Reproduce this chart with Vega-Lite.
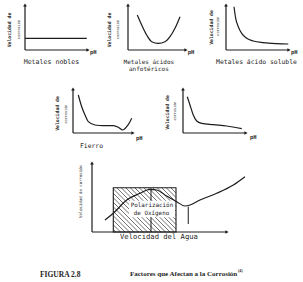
{
  "$schema": "https://vega.github.io/schema/vega-lite/v6.json",
  "padding": 0,
  "background": "white",
  "config": {
    "view": {"stroke": null},
    "text": {"font": "DejaVu Sans Mono", "color": "#1e1e1e", "fontWeight": "normal"},
    "line": {"color": "#1c1c1c", "strokeWidth": 1.2, "interpolate": "monotone"},
    "rule": {"color": "#1c1c1c", "strokeWidth": 1.2},
    "point": {"color": "#1c1c1c", "filled": true, "size": 14, "opacity": 1}
  },
  "vconcat": [
    {
      "hconcat": [
        {
          "width": 100, "height": 75,
          "encoding": {
            "x": {"field": "x", "type": "quantitative", "scale": {"domain": [-3.968, 11.905], "nice": false, "zero": false}, "axis": null},
            "y": {"field": "y", "type": "quantitative", "scale": {"domain": [-5.556, 11.111], "nice": false, "zero": false}, "axis": null}
          },
          "layer": [
            {"data": {"values": [{"x": 0, "y": 0, "x2": 10, "y2": 0}, {"x": 0, "y": 0, "x2": 0, "y2": 10}]}, "mark": "rule", "encoding": {"x2": {"field": "x2"}, "y2": {"field": "y2"}}},
            {"data": {"values": [{"x": 10, "y": 0}]}, "mark": {"type": "point", "shape": "triangle-right"}},
            {"data": {"values": [{"x": 0, "y": 10}]}, "mark": {"type": "point", "shape": "triangle-up"}},
            {"data": {"values": [{"x": 0, "y": 2.6}, {"x": 9.8, "y": 2.6}]}, "mark": {"type": "line", "interpolate": "linear"}},
            {"data": {"values": [{"x": 10.3, "y": -0.4, "t": "pH"}]}, "mark": {"type": "text", "align": "left", "baseline": "middle", "fontSize": 5.5, "fontWeight": "bold"}, "encoding": {"text": {"field": "t"}}},
            {"data": {"values": [{"x": 4.2, "y": -2.67, "t": "Metales nobles"}]}, "mark": {"type": "text", "align": "center", "baseline": "middle", "fontSize": 6.6}, "encoding": {"text": {"field": "t"}}},
            {"data": {"values": [{"x": -2.38, "y": 4.44, "t": "Velocidad de"}]}, "mark": {"type": "text", "align": "center", "baseline": "middle", "fontSize": 4.8, "fontWeight": "bold", "angle": 270}, "encoding": {"text": {"field": "t"}}},
            {"data": {"values": [{"x": -1.03, "y": 4.56, "t": "corrosión"}]}, "mark": {"type": "text", "align": "center", "baseline": "middle", "fontSize": 3.5, "angle": 270}, "encoding": {"text": {"field": "t"}}}
          ]
        },
        {
          "width": 100, "height": 75,
          "encoding": {
            "x": {"field": "x", "type": "quantitative", "scale": {"domain": [-4.828, 12.414], "nice": false, "zero": false}, "axis": null},
            "y": {"field": "y", "type": "quantitative", "scale": {"domain": [-5.556, 11.111], "nice": false, "zero": false}, "axis": null}
          },
          "layer": [
            {"data": {"values": [{"x": 0, "y": 0, "x2": 10, "y2": 0}, {"x": 0, "y": 0, "x2": 0, "y2": 10}]}, "mark": "rule", "encoding": {"x2": {"field": "x2"}, "y2": {"field": "y2"}}},
            {"data": {"values": [{"x": 10, "y": 0}]}, "mark": {"type": "point", "shape": "triangle-right"}},
            {"data": {"values": [{"x": 0, "y": 10}]}, "mark": {"type": "point", "shape": "triangle-up"}},
            {"data": {"values": [{"x": 1.6, "y": 7.78}, {"x": 2.36, "y": 5.56}, {"x": 3.22, "y": 3.33}, {"x": 4.09, "y": 1.84}, {"x": 5.22, "y": 1.49}, {"x": 6.38, "y": 1.84}, {"x": 7.24, "y": 2.96}, {"x": 8.1, "y": 4.82}, {"x": 8.97, "y": 7.4}]}, "mark": "line"},
            {"data": {"values": [{"x": 10.3, "y": -0.4, "t": "pH"}]}, "mark": {"type": "text", "align": "left", "baseline": "middle", "fontSize": 5.5, "fontWeight": "bold"}, "encoding": {"text": {"field": "t"}}},
            {"data": {"values": [{"x": 3.6, "y": -2.67, "t": "Metales ácidos"}, {"x": 3.6, "y": -4.33, "t": "anfotéricos"}]}, "mark": {"type": "text", "align": "center", "baseline": "middle", "fontSize": 6}, "encoding": {"text": {"field": "t"}}},
            {"data": {"values": [{"x": -3.1, "y": 4.44, "t": "Velocidad de"}]}, "mark": {"type": "text", "align": "center", "baseline": "middle", "fontSize": 4.8, "fontWeight": "bold", "angle": 270}, "encoding": {"text": {"field": "t"}}},
            {"data": {"values": [{"x": -1.81, "y": 4.56, "t": "corrosión"}]}, "mark": {"type": "text", "align": "center", "baseline": "middle", "fontSize": 3.5, "angle": 270}, "encoding": {"text": {"field": "t"}}}
          ]
        },
        {
          "width": 103, "height": 75,
          "encoding": {
            "x": {"field": "x", "type": "quantitative", "scale": {"domain": [-4.127, 12.222], "nice": false, "zero": false}, "axis": null},
            "y": {"field": "y", "type": "quantitative", "scale": {"domain": [-5.556, 11.111], "nice": false, "zero": false}, "axis": null}
          },
          "layer": [
            {"data": {"values": [{"x": 0, "y": 0, "x2": 10, "y2": 0}, {"x": 0, "y": 0, "x2": 0, "y2": 10}]}, "mark": "rule", "encoding": {"x2": {"field": "x2"}, "y2": {"field": "y2"}}},
            {"data": {"values": [{"x": 10, "y": 0}]}, "mark": {"type": "point", "shape": "triangle-right"}},
            {"data": {"values": [{"x": 0, "y": 10}]}, "mark": {"type": "point", "shape": "triangle-up"}},
            {"data": {"values": [{"x": 1.27, "y": 9.62}, {"x": 1.54, "y": 7.04}, {"x": 1.95, "y": 5.18}, {"x": 2.49, "y": 3.7}, {"x": 3.29, "y": 2.6}, {"x": 4.33, "y": 2.0}, {"x": 5.92, "y": 1.62}, {"x": 8.05, "y": 1.4}, {"x": 9.89, "y": 1.33}]}, "mark": "line"},
            {"data": {"values": [{"x": 10.3, "y": -0.4, "t": "pH"}]}, "mark": {"type": "text", "align": "left", "baseline": "middle", "fontSize": 5.5, "fontWeight": "bold"}, "encoding": {"text": {"field": "t"}}},
            {"data": {"values": [{"x": 4.84, "y": -2.67, "t": "Metales ácido soluble"}]}, "mark": {"type": "text", "align": "center", "baseline": "middle", "fontSize": 6.4}, "encoding": {"text": {"field": "t"}}},
            {"data": {"values": [{"x": -2.3, "y": 5.0, "t": "Velocidad de"}]}, "mark": {"type": "text", "align": "center", "baseline": "middle", "fontSize": 4.8, "fontWeight": "bold", "angle": 270}, "encoding": {"text": {"field": "t"}}},
            {"data": {"values": [{"x": -1.27, "y": 5.3, "t": "corrosión"}]}, "mark": {"type": "text", "align": "center", "baseline": "middle", "fontSize": 3.5, "angle": 270}, "encoding": {"text": {"field": "t"}}}
          ]
        }
      ],
      "spacing": 0
    },
    {
      "hconcat": [
        {
          "width": 150, "height": 80,
          "encoding": {
            "x": {"field": "x", "type": "quantitative", "scale": {"domain": [-12.167, 12.833], "nice": false, "zero": false}, "axis": null},
            "y": {"field": "y", "type": "quantitative", "scale": {"domain": [-5.0, 13.182], "nice": false, "zero": false}, "axis": null}
          },
          "layer": [
            {"data": {"values": [{"x": 0, "y": 0, "x2": 10, "y2": 0}, {"x": 0, "y": 0, "x2": 0, "y2": 10}]}, "mark": "rule", "encoding": {"x2": {"field": "x2"}, "y2": {"field": "y2"}}},
            {"data": {"values": [{"x": 10, "y": 0}]}, "mark": {"type": "point", "shape": "triangle-right"}},
            {"data": {"values": [{"x": 0, "y": 10}]}, "mark": {"type": "point", "shape": "triangle-up"}},
            {"data": {"values": [{"x": 0.88, "y": 8.64}, {"x": 1.45, "y": 5.98}, {"x": 2.0, "y": 4.09}, {"x": 2.55, "y": 2.57}, {"x": 3.67, "y": 1.82}, {"x": 5.05, "y": 1.66}, {"x": 6.72, "y": 1.66}, {"x": 7.55, "y": 1.3}, {"x": 8.28, "y": 0.68}, {"x": 8.95, "y": 1.43}, {"x": 9.5, "y": 2.57}, {"x": 9.78, "y": 3.34}]}, "mark": "line"},
            {"data": {"values": [{"x": 10.5, "y": -1.14, "t": "pH"}]}, "mark": {"type": "text", "align": "left", "baseline": "middle", "fontSize": 5.5, "fontWeight": "bold"}, "encoding": {"text": {"field": "t"}}},
            {"data": {"values": [{"x": 3.08, "y": -2.89, "t": "Fierro"}]}, "mark": {"type": "text", "align": "center", "baseline": "middle", "fontSize": 6.4}, "encoding": {"text": {"field": "t"}}},
            {"data": {"values": [{"x": -2.42, "y": 4.43, "t": "Velocidad de"}]}, "mark": {"type": "text", "align": "center", "baseline": "middle", "fontSize": 4.8, "fontWeight": "bold", "angle": 270}, "encoding": {"text": {"field": "t"}}},
            {"data": {"values": [{"x": -1.17, "y": 4.3, "t": "corrosión"}]}, "mark": {"type": "text", "align": "center", "baseline": "middle", "fontSize": 3.5, "angle": 270}, "encoding": {"text": {"field": "t"}}}
          ]
        },
        {
          "width": 153, "height": 80,
          "encoding": {
            "x": {"field": "x", "type": "quantitative", "scale": {"domain": [-5.238, 19.048], "nice": false, "zero": false}, "axis": null},
            "y": {"field": "y", "type": "quantitative", "scale": {"domain": [-5.0, 13.182], "nice": false, "zero": false}, "axis": null}
          },
          "layer": [
            {"data": {"values": [{"x": 0, "y": 0, "x2": 10, "y2": 0}, {"x": 0, "y": 0, "x2": 0, "y2": 10}]}, "mark": "rule", "encoding": {"x2": {"field": "x2"}, "y2": {"field": "y2"}}},
            {"data": {"values": [{"x": 10, "y": 0}]}, "mark": {"type": "point", "shape": "triangle-right"}},
            {"data": {"values": [{"x": 0, "y": 10}]}, "mark": {"type": "point", "shape": "triangle-up"}},
            {"data": {"values": [{"x": 0.68, "y": 8.25}, {"x": 1.11, "y": 6.36}, {"x": 1.63, "y": 4.09}, {"x": 2.17, "y": 2.73}, {"x": 2.97, "y": 2.2}, {"x": 4.81, "y": 1.89}, {"x": 6.94, "y": 1.59}, {"x": 9.32, "y": 0.98}]}, "mark": "line"},
            {"data": {"values": [{"x": 10.63, "y": -0.9, "t": "pH"}]}, "mark": {"type": "text", "align": "left", "baseline": "middle", "fontSize": 5.5, "fontWeight": "bold"}, "encoding": {"text": {"field": "t"}}},
            {"data": {"values": [{"x": -2.46, "y": 4.66, "t": "Velocidad de"}]}, "mark": {"type": "text", "align": "center", "baseline": "middle", "fontSize": 4.8, "fontWeight": "bold", "angle": 270}, "encoding": {"text": {"field": "t"}}},
            {"data": {"values": [{"x": -1.32, "y": 5.0, "t": "corrosión"}]}, "mark": {"type": "text", "align": "center", "baseline": "middle", "fontSize": 3.5, "angle": 270}, "encoding": {"text": {"field": "t"}}}
          ]
        }
      ],
      "spacing": 0
    },
    {
      "width": 303, "height": 100,
      "encoding": {
        "x": {"field": "x", "type": "quantitative", "scale": {"domain": [-6.815, 15.63], "nice": false, "zero": false}, "axis": null},
        "y": {"field": "y", "type": "quantitative", "scale": {"domain": [-3.333, 11.159], "nice": false, "zero": false}, "axis": null}
      },
      "layer": [
        {"data": {"values": [
          {"x": 1.578, "y": 0.39, "x2": 1.778, "y2": 0},
          {"x": 1.578, "y": 1.04, "x2": 2.111, "y2": 0},
          {"x": 1.578, "y": 1.70, "x2": 2.444, "y2": 0},
          {"x": 1.578, "y": 2.35, "x2": 2.778, "y2": 0},
          {"x": 1.578, "y": 3.0, "x2": 3.111, "y2": 0},
          {"x": 1.578, "y": 3.65, "x2": 3.444, "y2": 0},
          {"x": 1.578, "y": 4.30, "x2": 3.778, "y2": 0},
          {"x": 1.578, "y": 4.96, "x2": 4.111, "y2": 0},
          {"x": 1.578, "y": 5.61, "x2": 4.444, "y2": 0},
          {"x": 1.578, "y": 6.26, "x2": 4.778, "y2": 0},
          {"x": 1.83, "y": 6.42, "x2": 5.111, "y2": 0},
          {"x": 2.163, "y": 6.42, "x2": 5.444, "y2": 0},
          {"x": 2.496, "y": 6.42, "x2": 5.778, "y2": 0},
          {"x": 2.83, "y": 6.42, "x2": 6.111, "y2": 0},
          {"x": 3.163, "y": 6.42, "x2": 6.222, "y2": 0.435},
          {"x": 3.496, "y": 6.42, "x2": 6.222, "y2": 1.087},
          {"x": 3.83, "y": 6.42, "x2": 6.222, "y2": 1.739},
          {"x": 4.163, "y": 6.42, "x2": 6.222, "y2": 2.391},
          {"x": 4.496, "y": 6.42, "x2": 6.222, "y2": 3.043},
          {"x": 4.83, "y": 6.42, "x2": 6.222, "y2": 3.696},
          {"x": 5.163, "y": 6.42, "x2": 6.222, "y2": 4.348},
          {"x": 5.496, "y": 6.42, "x2": 6.222, "y2": 5.0},
          {"x": 5.83, "y": 6.42, "x2": 6.222, "y2": 5.652}
        ]}, "mark": {"type": "rule", "strokeWidth": 0.7, "color": "#333"}, "encoding": {"x2": {"field": "x2"}, "y2": {"field": "y2"}}},
        {"data": {"values": [{"x": 4.37, "y": 0, "x2": 4.37, "y2": 6.33}, {"x": 7.13, "y": 1.16, "x2": 7.13, "y2": 3.67}]}, "mark": {"type": "rule", "strokeWidth": 1}, "encoding": {"x2": {"field": "x2"}, "y2": {"field": "y2"}}},
        {"data": {"values": [{"x": 2.74, "y": 2.13, "x2": 6.15, "y2": 4.54}]}, "mark": {"type": "rect", "fill": "white", "stroke": null}, "encoding": {"x2": {"field": "x2"}, "y2": {"field": "y2"}}},
        {"data": {"values": [{"x": 1.578, "y": 0, "x2": 6.222, "y2": 6.42}]}, "mark": {"type": "rect", "fill": "transparent", "stroke": "#1c1c1c", "strokeWidth": 1.1}, "encoding": {"x2": {"field": "x2"}, "y2": {"field": "y2"}}},
        {"data": {"values": [{"x": 0, "y": 0, "x2": 10, "y2": 0}, {"x": 0, "y": 0, "x2": 0, "y2": 10}]}, "mark": "rule", "encoding": {"x2": {"field": "x2"}, "y2": {"field": "y2"}}},
        {"data": {"values": [{"x": 10, "y": 0}]}, "mark": {"type": "point", "shape": "triangle-right"}},
        {"data": {"values": [{"x": 0, "y": 10}]}, "mark": {"type": "point", "shape": "triangle-up"}},
        {"data": {"values": [{"x": 0.96, "y": 1.74}, {"x": 1.58, "y": 2.71}, {"x": 2.57, "y": 4.64}, {"x": 3.56, "y": 5.61}, {"x": 4.3, "y": 6.19}, {"x": 4.79, "y": 6.09}, {"x": 5.53, "y": 5.22}, {"x": 6.27, "y": 4.39}, {"x": 6.89, "y": 3.77}, {"x": 7.26, "y": 3.91}, {"x": 8.0, "y": 4.64}, {"x": 9.24, "y": 5.61}, {"x": 10.47, "y": 6.81}, {"x": 11.33, "y": 8.01}]}, "mark": "line"},
        {"data": {"values": [{"x": 4.44, "y": 3.91, "t": "Polarización"}, {"x": 4.41, "y": 2.71, "t": "de Oxígeno"}]}, "mark": {"type": "text", "align": "center", "baseline": "middle", "fontSize": 5.9}, "encoding": {"text": {"field": "t"}}},
        {"data": {"values": [{"x": 4.96, "y": -0.68, "t": "Velocidad del Agua"}]}, "mark": {"type": "text", "align": "center", "baseline": "middle", "fontSize": 7.2}, "encoding": {"text": {"field": "t"}}},
        {"data": {"values": [{"x": -0.81, "y": 5.87, "t": "Velocidad de corrosión"}]}, "mark": {"type": "text", "align": "center", "baseline": "middle", "fontSize": 4, "angle": 270}, "encoding": {"text": {"field": "t"}}}
      ]
    },
    {
      "width": 303, "height": 27,
      "encoding": {
        "x": {"field": "x", "type": "quantitative", "scale": {"domain": [0, 10], "nice": false, "zero": false}, "axis": null},
        "y": {"field": "y", "type": "quantitative", "scale": {"domain": [0, 1], "nice": false, "zero": false}, "axis": null}
      },
      "layer": [
        {"data": {"values": [{"x": 1.32, "y": 0.259, "t": "FIGURA 2.8"}]}, "mark": {"type": "text", "align": "left", "baseline": "middle", "font": "Liberation Serif", "fontSize": 7.5, "fontWeight": "bold"}, "encoding": {"text": {"field": "t"}}},
        {"data": {"values": [{"x": 4.29, "y": 0.296, "t": "Factores que Afectan a la Corrosión"}]}, "mark": {"type": "text", "align": "left", "baseline": "middle", "font": "Liberation Serif", "fontSize": 7, "fontWeight": "bold"}, "encoding": {"text": {"field": "t"}}},
        {"data": {"values": [{"x": 7.855, "y": 0.407, "t": "(4)"}]}, "mark": {"type": "text", "align": "left", "baseline": "middle", "font": "Liberation Serif", "fontSize": 4, "fontWeight": "bold"}, "encoding": {"text": {"field": "t"}}}
      ]
    }
  ],
  "spacing": 0
}
